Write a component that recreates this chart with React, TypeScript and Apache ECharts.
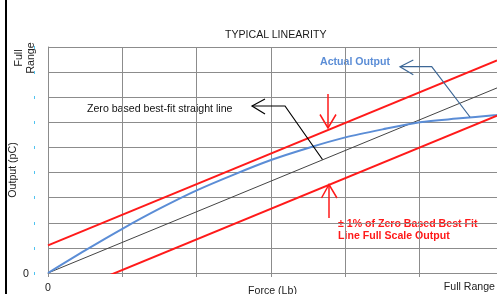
import React, { useEffect, useRef } from "react";
import * as echarts from "echarts";

// Force axis (grid units, 0 .. full range)
const forceTicks = [0, 1, 2, 3, 4, 5];
const outputTicks = [0, 1, 2, 3, 4, 5, 6, 7, 8, 9];

// Zero based best-fit straight line and ±1% band
const fitX = [0, 6.04];
const fitY = [0, 7.37];
const upperY = [1.1, 8.47];
const lowerY = [-1.1, 6.27];

// Actual output curve
const actualX = [0, 0.5, 1, 1.5, 2, 2.5, 3, 3.5, 4, 4.5, 5, 5.5, 6, 6.04];
const actualY = [0, 0.9, 1.76, 2.56, 3.29, 3.92, 4.5, 4.98, 5.4, 5.72, 6.0, 6.15, 6.28, 6.29];

const FONT = "Liberation Sans, Arial, sans-serif";
const FS = 10.6;
const RED = "#ff1a1a";
const BLUE = "#5b8dd6";

export default function App() {
  const ref = useRef<HTMLDivElement>(null);
  useEffect(() => {
    if (!ref.current) return;
    const chart = echarts.init(ref.current, null, { renderer: "svg" });
    const pair = (xs: number[], ys: number[]) => xs.map((x, i) => [x, ys[i]]);
    chart.setOption({
      animation: false,
      textStyle: { fontFamily: FONT },
      title: {
        text: "TYPICAL LINEARITY",
        left: 225,
        top: 28,
        padding: 0,
        textStyle: { fontSize: FS, fontWeight: "normal", color: "#1a1a1a", fontFamily: FONT },
      },
      grid: { left: 48, top: 47, right: 0, bottom: 21, containLabel: false, outerBoundsMode: "none" },
      xAxis: {
        type: "value",
        min: 0,
        max: 6.04,
        interval: 1,
        name: "Force (Lb)",
        nameLocation: "middle",
        nameGap: 11,
        nameMoveOverlap: false,
        nameTextStyle: { fontSize: FS, color: "#222", fontFamily: FONT },
        axisLine: { show: true, lineStyle: { color: "#8c8c8c", width: 1 } },
        axisTick: { show: true, length: 4, customValues: forceTicks, lineStyle: { color: "#8c8c8c" } },
        axisLabel: { customValues: [0], margin: 8, fontSize: FS, color: "#222", fontFamily: FONT },
        splitLine: { show: true, lineStyle: { color: "#8c8c8c", width: 1 } },
      },
      yAxis: [
        {
          type: "value",
          min: 0,
          max: 9,
          interval: 1,
          axisLine: { show: true, lineStyle: { color: "#8c8c8c", width: 1 } },
          axisTick: { show: false },
          axisLabel: { customValues: [0], margin: 19, fontSize: FS, color: "#222", fontFamily: FONT },
          splitLine: { show: true, lineStyle: { color: "#8c8c8c", width: 1 } },
        },
        {
          type: "value",
          min: 0,
          max: 9,
          interval: 1,
          position: "left",
          offset: 13,
          axisLine: { show: false },
          axisTick: { show: true, length: 1, customValues: outputTicks, lineStyle: { color: "#4fc3f0", width: 3 } },
          axisLabel: { show: false },
          splitLine: { show: false },
        },
      ],
      series: [
        {
          type: "line",
          data: pair(fitX, fitY),
          symbol: "none",
          lineStyle: { color: "#444", width: 1 },
          z: 2,
        },
        {
          type: "line",
          data: pair(actualX, actualY),
          symbol: "none",
          smooth: 0.3,
          lineStyle: { color: BLUE, width: 2 },
          z: 3,
        },
        {
          type: "line",
          data: pair(fitX, upperY),
          symbol: "none",
          lineStyle: { color: RED, width: 2 },
          z: 4,
        },
        {
          type: "line",
          data: pair(fitX, lowerY),
          symbol: "none",
          lineStyle: { color: RED, width: 2 },
          z: 4,
        },
      ],
      graphic: [
        { type: "rect", shape: { x: 5, y: 0, width: 2, height: 294 }, style: { fill: "#000" } },
        {
          type: "text",
          x: 24,
          y: 58,
          rotation: Math.PI / 2,
          style: { text: "Full\nRange", lineHeight: 11.5, fill: "#222", font: `${FS}px ${FONT}`, align: "center", verticalAlign: "middle" },
        },
        {
          type: "text",
          x: 12,
          y: 170,
          rotation: Math.PI / 2,
          style: { text: "Output (pC)", fill: "#222", font: `${FS}px ${FONT}`, align: "center", verticalAlign: "middle" },
        },
        {
          type: "text",
          x: 495,
          y: 286,
          style: { text: "Full Range", fill: "#222", font: `${FS}px ${FONT}`, align: "right", verticalAlign: "middle" },
        },
        // Zero based best-fit annotation
        {
          type: "text",
          x: 87,
          y: 108,
          style: { text: "Zero based best-fit straight line", fill: "#111", font: `${FS}px ${FONT}`, align: "left", verticalAlign: "middle" },
        },
        { type: "polyline", shape: { points: [[252, 106], [285, 106], [322.5, 159.5]] }, style: { stroke: "#000", lineWidth: 1.2, fill: "none" }, z: 10 },
        { type: "polyline", shape: { points: [[265, 99], [252, 106], [265, 114]] }, style: { stroke: "#000", lineWidth: 1.2, fill: "none" }, z: 10 },
        // Actual output annotation
        {
          type: "text",
          x: 320,
          y: 61,
          style: { text: "Actual Output", fill: BLUE, font: `bold ${FS}px ${FONT}`, align: "left", verticalAlign: "middle" },
        },
        { type: "polyline", shape: { points: [[400, 66.7], [431.7, 66.7], [470, 117]] }, style: { stroke: "#3d6796", lineWidth: 1.2, fill: "none" }, z: 10 },
        { type: "polyline", shape: { points: [[413.3, 60], [400, 66.7], [413.3, 74.7]] }, style: { stroke: "#3d6796", lineWidth: 1.2, fill: "none" }, z: 10 },
        // ±1% arrows
        { type: "line", shape: { x1: 328, y1: 94, x2: 328, y2: 128 }, style: { stroke: RED, lineWidth: 1.5 }, z: 10 },
        { type: "polyline", shape: { points: [[320, 114.5], [328, 128], [336, 114.5]] }, style: { stroke: RED, lineWidth: 1.5, fill: "none" }, z: 10 },
        { type: "line", shape: { x1: 329, y1: 184.5, x2: 329, y2: 218 }, style: { stroke: RED, lineWidth: 1.5 }, z: 10 },
        { type: "polyline", shape: { points: [[321.5, 198], [329, 184.5], [337, 198]] }, style: { stroke: RED, lineWidth: 1.5, fill: "none" }, z: 10 },
        {
          type: "text",
          x: 338,
          y: 229,
          style: {
            text: "± 1% of Zero Based Best Fit\nLine Full Scale Output",
            fill: RED,
            font: `bold ${FS}px ${FONT}`,
            lineHeight: 12,
            align: "left",
            verticalAlign: "middle",
          },
        },
      ],
    });
    return () => chart.dispose();
  }, []);
  return <div ref={ref} style={{ position: "fixed", left: 0, top: 0, width: 497, height: 294 }} />;
}
